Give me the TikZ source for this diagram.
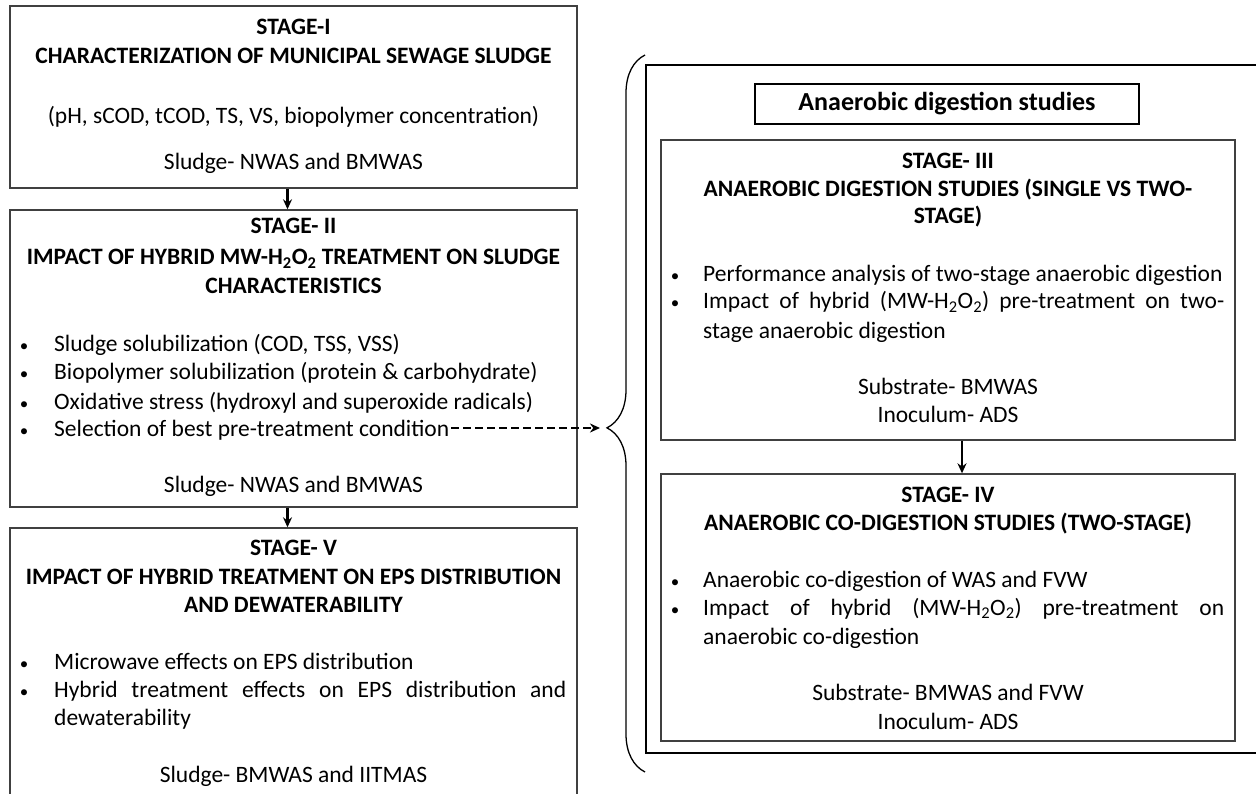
\documentclass[tikz,border=0pt]{standalone}
\usepackage{fontspec}
\setmainfont{Carlito}
\usetikzlibrary{arrows.meta,positioning,decorations.pathreplacing}

\tikzset{
  stagebox/.style={draw=black!75, line width=1.4pt, inner sep=0pt},
  outerbox/.style={draw=black, line width=2.2pt, inner sep=0pt},
  txt/.style={inner sep=0pt, font=\fontsize{23.5}{28}\selectfont},
  head/.style={txt, font=\fontsize{23.5}{28}\selectfont\bfseries, anchor=base},
  ctr/.style={txt, anchor=base},
  body/.style={txt, anchor=base west},
  bul/.style={inner sep=0pt, font=\fontsize{17}{17}\selectfont, anchor=base},
  arr/.style={-{Stealth[length=10pt,width=9pt]}, line width=2.2pt},
}

\begin{document}
\begin{tikzpicture}[x=1pt,y=-1pt]
  \useasboundingbox (0,0) rectangle (1256,794);
  % left column
  \node[stagebox, minimum width=567, minimum height=182] (s1) at (293.5,97) {};
  \node[stagebox, minimum width=567, minimum height=297] (s2) at (293.5,358.5) {};
  \node[stagebox, minimum width=567, minimum height=272] (s5) at (293.5,664) {};
  % Stage I
  \node[head] (s1a) at (293.5,35) {STAGE-I};
  \node[head] (s1b) at (293.5,64) {CHARACTERIZATION OF MUNICIPAL SEWAGE SLUDGE};
  \node[ctr] (s1c) at (293.5,124) {(pH, sCOD, tCOD, TS, VS, biopolymer concentration)};
  \node[ctr] (s1d) at (293.5,170) {Sludge- NWAS and BMWAS};
  % Stage II
  \node[head] (s2a) at (293.5,234) {STAGE- II};
  \node[head] (s2b) at (293.5,265) {IMPACT OF HYBRID MW-H\textsubscript{2}O\textsubscript{2} TREATMENT ON SLUDGE};
  \node[head] (s2c) at (293.5,294) {CHARACTERISTICS};
  \foreach \y/\t [count=\i] in {352/{Sludge solubilization (COD, TSS, VSS)},
      380/{Biopolymer solubilization (protein \& carbohydrate)},
      409/{Oxidative stress (hydroxyl and superoxide radicals)},
      436/{Selection of best pre-treatment condition}} {
    \node[bul] at (24,\y) {\textbullet};
    \node[body] (s2l\i) at (54,\y) {\t};
  }
  \node[ctr] (s2d) at (293.5,492) {Sludge- NWAS and BMWAS};
  % Stage V
  \node[head] (s5a) at (293.5,555) {STAGE- V};
  \node[head] (s5b) at (293.5,584) {IMPACT OF HYBRID TREATMENT ON EPS DISTRIBUTION};
  \node[head] (s5c) at (293.5,612) {AND DEWATERABILITY};
  \node[bul] at (24,669) {\textbullet};
  \node[body] (s5l1) at (54,669) {Microwave effects on EPS distribution};
  \node[bul] at (24,697) {\textbullet};
  \node[body] (s5l2) at (54,697) {\makebox[512pt][s]{Hybrid treatment effects on EPS distribution and}};
  \node[body] (s5l3) at (54,725) {dewaterability};
  \node[ctr] (s5d) at (293.5,782) {Sludge- BMWAS and IITMAS};

  % right column
  \node[outerbox, minimum width=616, minimum height=688] (ad) at (954,409) {};
  \node[outerbox, line width=2.6pt, minimum width=384, minimum height=40] (adt) at (947,104) {};
  \node[head, font=\fontsize{26}{30}\selectfont\bfseries] at (adt) [anchor=center] {Anaerobic digestion studies};
  \node[stagebox, minimum width=574, minimum height=300] (s3) at (948,290) {};
  \node[stagebox, minimum width=574, minimum height=267] (s4) at (948,607.5) {};
  % Stage III
  \node[head] (s3a) at (948,169) {STAGE- III};
  \node[head] (s3b) at (948,197) {ANAEROBIC DIGESTION STUDIES (SINGLE VS TWO-};
  \node[head] (s3c) at (948,224) {STAGE)};
  \node[bul] at (675,282) {\textbullet};
  \node[body] (s3l1) at (703,282) {Performance analysis of two-stage anaerobic digestion};
  \node[bul] at (675,309) {\textbullet};
  \node[body] (s3l2) at (703,309) {\makebox[521pt][s]{Impact of hybrid (MW-H\textsubscript{2}O\textsubscript{2}) pre-treatment on two-}};
  \node[body] (s3l3) at (703,338) {stage anaerobic digestion};
  \node[ctr] (s3d) at (948,395) {Substrate- BMWAS};
  \node[ctr] (s3e) at (948,422) {Inoculum- ADS};
  % Stage IV
  \node[head] (s4a) at (948,502) {STAGE- IV};
  \node[head] (s4b) at (948,530) {ANAEROBIC CO-DIGESTION STUDIES (TWO-STAGE)};
  \node[bul] at (675,587) {\textbullet};
  \node[body] (s4l1) at (703,587) {Anaerobic co-digestion of WAS and FVW};
  \node[bul] at (675,615) {\textbullet};
  \node[body] (s4l2) at (703,615) {\makebox[521pt][s]{Impact of hybrid (MW-H\textsubscript{2}O\textsubscript{2}) pre-treatment on}};
  \node[body] (s4l3) at (703,644) {anaerobic co-digestion};
  \node[ctr] (s4d) at (948,700) {Substrate- BMWAS and FVW};
  \node[ctr] (s4e) at (948,729) {Inoculum- ADS};

  % connectors
  \draw[arr] ([xshift=-6pt]s1.south) -- ([xshift=-6pt]s2.north);
  \draw[arr] ([xshift=-6pt]s2.south) -- ([xshift=-6pt]s5.north);
  \draw[arr] ([xshift=14pt]s3.south) -- ([xshift=14pt]s4.north);
  \coordinate (btip) at (600,428);
  \draw[arr, line width=2.6pt, dash pattern=on 8pt off 4pt] ([xshift=2pt]s2l4.east |- btip) -- (btip);
  \draw[line width=1.3pt, decorate, decoration={brace, amplitude=38pt, aspect=0.48}]
    (645,772) -- (645,55);
\end{tikzpicture}
\end{document}
